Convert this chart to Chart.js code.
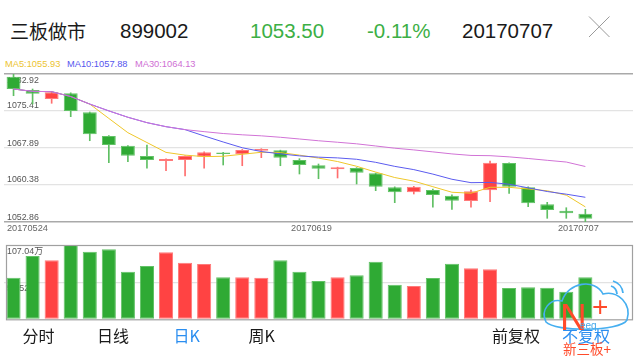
<!DOCTYPE html>
<html><head><meta charset="utf-8">
<script src="https://cdn.jsdelivr.net/npm/chart.js@4.4.1/dist/chart.umd.min.js"></script>
<style>
html,body{margin:0;padding:0;background:#fff;width:640px;height:360px;overflow:hidden;}
body{position:relative;font-family:"Liberation Sans","Noto Sans CJK SC",sans-serif;}
.abs{position:absolute;white-space:nowrap;line-height:1;}
.cjk{font-family:"Noto Sans CJK SC","Liberation Sans",sans-serif;}
canvas{position:absolute;left:0;}
#logo{position:absolute;left:540px;top:270px;z-index:5;}
</style></head><body>
<div class="abs cjk" id="hName" style="left:10px;top:20.5px;font-size:19px;color:#1a1a1a"></div>
<div class="abs" id="hCode" style="left:120px;top:21px;font-size:20.5px;color:#1a1a1a"></div>
<div class="abs" id="hPrice" style="left:250px;top:21px;font-size:20.5px;color:#3caf45"></div>
<div class="abs" id="hChg" style="left:367px;top:21px;font-size:20.5px;color:#3caf45"></div>
<div class="abs" id="hDate" style="left:462px;top:21px;font-size:20.5px;color:#1a1a1a"></div>
<svg style="position:absolute;left:0;top:0" width="640" height="50"><line x1="589" y1="16.5" x2="609.5" y2="37" stroke="#9a9a9a" stroke-width="1"/><line x1="609.5" y1="16.5" x2="589" y2="37" stroke="#9a9a9a" stroke-width="1"/></svg>
<div class="abs" id="lg5" style="left:5px;top:60.4px;font-size:9.3px;color:#ecc431"></div>
<div class="abs" id="lg10" style="left:67px;top:60.4px;font-size:9.3px;color:#5656ee"></div>
<div class="abs" id="lg30" style="left:135px;top:60.4px;font-size:9.3px;color:#cf6fd4"></div>
<canvas id="kc" width="640" height="184" style="top:56px"></canvas>
<canvas id="vc" width="640" height="85" style="top:240px"></canvas>
<div id="tabs"></div>
<svg id="logo" width="100" height="90">
  <path d="M6,52 C0,40 10,28 22,31 C28,12 55,8 63,24 C78,20 92,34 87,50 C80,62 15,62 6,52 Z" fill="none" stroke="#46aff0" stroke-width="1.6"/>
  <path d="M71,16 A9,9 0 0 1 77,24" fill="none" stroke="#46aff0" stroke-width="1.8"/>
  <path d="M73,11 A14,14 0 0 1 83,23" fill="none" stroke="#46aff0" stroke-width="1.8"/>
  <text x="20" y="60" font-size="37" fill="#ff4a2a" font-family="Liberation Sans">N</text>
  <text x="52" y="46" font-size="28" fill="#ff4a2a" font-family="Liberation Sans">+</text>
  <text x="40" y="59" font-size="10" fill="#46a8ea" font-family="Liberation Sans">eeq</text>
  <text x="23" y="84" font-size="13.5" fill="#ff4a2a" font-family="Noto Sans CJK SC">新三板+</text>
</svg>
<script>
// ---- data ----
const stockName = '三板做市';
const stockCode = '899002';
const lastPrice = '1053.50';
const changePct = '-0.11%';
const lastDate = '20170707';
const dates = ['20170524','20170525','20170526','20170531','20170601','20170602','20170605','20170606','20170607','20170608','20170609','20170612','20170613','20170614','20170615','20170616','20170619','20170620','20170621','20170622','20170623','20170626','20170627','20170628','20170629','20170630','20170703','20170704','20170705','20170706','20170707'];
const openP  = [1082.37,1079.67,1077.84,1079.00,1075.14,1070.33,1068.36,1066.26,1065.25,1065.45,1066.12,1066.93,1066.61,1067.34,1067.42,1065.45,1064.37,1063.56,1063.83,1062.75,1059.91,1058.89,1059.36,1058.20,1057.12,1059.30,1064.84,1059.91,1056.45,1055.15,1054.55];
const highP  = [1082.92,1079.87,1079.40,1079.10,1075.20,1070.40,1068.40,1068.50,1065.70,1066.30,1067.10,1067.00,1067.60,1067.75,1067.45,1065.72,1064.64,1064.00,1063.90,1062.80,1060.00,1060.10,1059.56,1058.40,1059.36,1065.25,1064.90,1060.00,1056.86,1055.76,1055.44];
const lowP   = [1078.51,1076.82,1076.97,1074.25,1069.37,1064.90,1065.11,1063.77,1063.28,1062.20,1063.77,1064.44,1064.29,1065.92,1064.29,1062.61,1061.65,1061.80,1060.58,1059.22,1056.78,1058.55,1055.85,1055.44,1055.85,1056.98,1058.69,1055.97,1053.61,1053.61,1052.86];
const closeP = [1079.87,1078.92,1079.20,1075.40,1070.67,1068.50,1066.32,1065.45,1065.65,1066.26,1067.02,1066.67,1067.48,1067.69,1065.92,1064.44,1063.68,1063.97,1062.87,1060.03,1058.89,1060.03,1058.34,1057.19,1059.09,1064.90,1060.03,1056.66,1055.30,1054.66,1053.50];
const ma5  = [1079.87,1079.40,1079.33,1078.35,1076.81,1073.90,1071.00,1069.00,1067.00,1066.44,1066.14,1066.21,1066.62,1067.02,1066.96,1066.44,1065.84,1065.14,1064.18,1063.00,1061.89,1061.16,1060.03,1058.90,1058.71,1059.91,1059.91,1059.57,1059.20,1058.31,1055.93];
const ma10 = [1079.87,1079.40,1079.33,1078.35,1076.81,1075.43,1074.13,1073.04,1072.22,1071.62,1070.34,1069.11,1067.94,1067.17,1066.70,1066.29,1066.03,1065.88,1065.60,1064.98,1064.16,1063.50,1062.59,1061.54,1060.85,1060.90,1060.53,1059.80,1059.05,1058.51,1057.88];
const ma30 = [1079.87,1079.40,1079.33,1078.35,1076.81,1075.43,1074.13,1073.04,1072.22,1071.62,1071.21,1070.83,1070.57,1070.36,1070.07,1069.72,1069.36,1069.06,1068.74,1068.30,1067.85,1067.50,1067.10,1066.69,1066.38,1066.33,1066.09,1065.76,1065.39,1065.04,1064.13];
const volume = [59.9,91.2,85.0,107.04,97.4,100.8,68.6,76.8,96.5,81.5,79.7,60.5,60.5,59.9,85.0,68.6,55.2,60.5,63.4,83.0,49.8,48.0,59.5,80.1,73.5,72.0,45.1,46.1,45.5,39.8,60.5]; // 万
const priceTicks = [1052.86,1060.38,1067.89,1075.41,1082.92];
const volTicks = [0,53.52,107.04];
const dateTickIdx = [0,16,30];
const tabs = ['分时','日线','日K','周K','前复权','不复权'];
const activeTabs = ['日K','不复权'];

// ---- text ----
document.getElementById('hName').textContent = stockName;
document.getElementById('hCode').textContent = stockCode;
document.getElementById('hPrice').textContent = lastPrice;
document.getElementById('hChg').textContent = changePct;
document.getElementById('hDate').textContent = lastDate;
document.getElementById('lg5').textContent = 'MA5:' + ma5[ma5.length-1].toFixed(2);
document.getElementById('lg10').textContent = 'MA10:' + ma10[ma10.length-1].toFixed(2);
document.getElementById('lg30').textContent = 'MA30:' + ma30[ma30.length-1].toFixed(2);
const tabLeft = [22.5, 97, 173.5, 248.5, 492, 562];
const tabsEl = document.getElementById('tabs');
tabs.forEach((t,i)=>{
  const d = document.createElement('div');
  d.className = 'abs cjk';
  d.style.left = tabLeft[i] + 'px';
  d.style.top = '327px';
  d.style.fontSize = '16px';
  d.style.color = activeTabs.includes(t) ? '#2b8ef0' : '#1a1a1a';
  d.textContent = t;
  tabsEl.appendChild(d);
});

// ---- colours ----
const UP = '#ff4343', UPB = '#ff7a7a', DN = '#2faa34', DNB = '#62c266';
const UPW = '#ff6e6e', DNW = '#5fbf63';
const isUp = closeP.map((c,i)=> c >= openP[i]);
const labels = dates.concat(['','']);

const priceText = {
  id:'priceText',
  beforeDatasetsDraw(chart){
    const {ctx, chartArea:a, scales:{y}} = chart;
    ctx.save();
    ctx.font = '8.8px "Liberation Sans"';
    ctx.fillStyle = '#555';
    ctx.textAlign = 'left';
    ctx.textBaseline = 'alphabetic';
    priceTicks.forEach((v,i)=>{
      const py = y.getPixelForValue(v);
      const by = (i === priceTicks.length-1) ? py + 8.5 : py - 2.5;
      ctx.fillText(v.toFixed(2), a.left + 3, by);
    });
    ctx.restore();
  },
  afterDraw(chart){
    const {ctx, chartArea:a, scales:{x}} = chart;
    ctx.save();
    ctx.font = '9.2px "Liberation Sans"';
    ctx.fillStyle = '#666';
    ctx.textBaseline = 'alphabetic';
    dateTickIdx.forEach(i=>{
      const t = dates[i];
      const w = ctx.measureText(t).width;
      let cx = x.getPixelForValue(i) - 7;
      let lx = Math.max(a.left + 3, cx - w/2);
      ctx.fillText(t, lx, a.bottom + 8.5);
    });
    ctx.restore();
  }
};

new Chart(document.getElementById('kc'), {
  type:'bar',
  data:{ labels, datasets:[
    {type:'line', data:ma30, borderColor:'#d173d6', borderWidth:1, pointRadius:0, tension:0, order:0},
    {type:'line', data:ma10, borderColor:'#5b5bef', borderWidth:1, pointRadius:0, tension:0, order:1},
    {type:'line', data:ma5, borderColor:'#efc72a', borderWidth:1, pointRadius:0, tension:0, order:2},
    {type:'bar', data:openP.map((o,i)=>[o, closeP[i]]), backgroundColor:isUp.map(u=>u?UP:DN), borderColor:isUp.map(u=>u?UPB:DNB), borderWidth:1, borderSkipped:false, barPercentage:0.73, categoryPercentage:1, minBarLength:1.5, grouped:false, order:3},
    {type:'bar', data:lowP.map((l,i)=>[l, highP[i]]), backgroundColor:isUp.map(u=>u?UPW:DNW), borderWidth:0, barThickness:1, grouped:false, order:4}
  ]},
  options:{
    responsive:false, animation:false, events:[],
    layout:{padding:{left:4,right:7,top:18,bottom:18}},
    plugins:{legend:{display:false}, tooltip:{enabled:false}},
    scales:{
      x:{display:false, offset:true},
      y:{min:priceTicks[0], max:priceTicks[priceTicks.length-1],
         afterBuildTicks:s=>{ s.ticks = priceTicks.map(v=>({value:v})); },
         ticks:{display:false},
         border:{display:false},
         grid:{drawTicks:false,
           color:c=>{ const v=c.tick&&c.tick.value; return (v===priceTicks[0]||v===priceTicks[priceTicks.length-1])?'#a9a9a9':'#e3e3e3'; },
           lineWidth:c=>{ const v=c.tick&&c.tick.value; return (v===priceTicks[0]||v===priceTicks[priceTicks.length-1])?1.6:1.3; }}
      }
    }
  },
  plugins:[priceText]
});

const volText = {
  id:'volText',
  beforeDatasetsDraw(chart){
    const {ctx, chartArea:a, scales:{y}} = chart;
    ctx.save();
    ctx.font = '8.9px "Liberation Sans","Noto Sans CJK SC"';
    ctx.fillStyle = '#555';
    ctx.textBaseline = 'alphabetic';
    ctx.fillText(volTicks[2].toFixed(2) + '万', a.left + 3, y.getPixelForValue(volTicks[2]) + 8.5);
    ctx.fillText(volTicks[1].toFixed(2) + '万', a.left + 3, y.getPixelForValue(volTicks[1]) + 8.5);
    ctx.restore();
  },
  afterDatasetsDraw(chart){
    const {ctx, chartArea:a} = chart;
    ctx.save();
    ctx.strokeStyle = '#a0a0a0';
    ctx.lineWidth = 1.2;
    ctx.strokeRect(a.left + 2.5, a.top + 0.5, a.right - a.left - 3, a.bottom - a.top);
    ctx.restore();
  }
};

new Chart(document.getElementById('vc'), {
  type:'bar',
  data:{ labels, datasets:[
    {data:volume, backgroundColor:isUp.map(u=>u?UP:DN), borderColor:isUp.map(u=>u?UPB:DNB), borderWidth:1, borderSkipped:false, barPercentage:0.74, categoryPercentage:1}
  ]},
  options:{
    responsive:false, animation:false, events:[],
    layout:{padding:{left:4,right:7,top:5,bottom:5.7}},
    plugins:{legend:{display:false}, tooltip:{enabled:false}},
    scales:{
      x:{display:false, offset:true},
      y:{min:volTicks[0], max:volTicks[2],
         afterBuildTicks:s=>{ s.ticks = volTicks.map(v=>({value:v})); },
         ticks:{display:false},
         border:{display:false},
         grid:{drawTicks:false, color:c=>{ const v=c.tick&&c.tick.value; return v===volTicks[1]?'#e2e2e2':'rgba(0,0,0,0)'; }, lineWidth:1.2}
      }
    }
  },
  plugins:[volText]
});
</script>
</body></html>
